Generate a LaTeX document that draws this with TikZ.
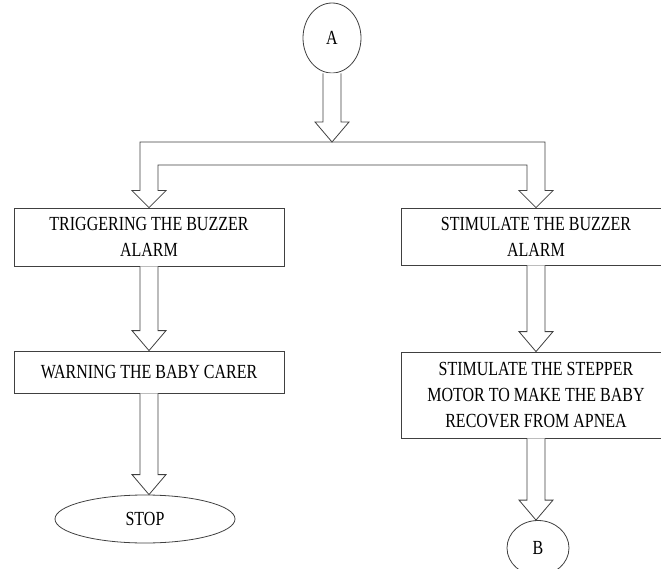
\documentclass[tikz,border=0pt]{standalone}
\usepackage{fontspec}
\setmainfont{Liberation Serif}[FakeStretch=0.8]
\usepackage{tikz}
\usetikzlibrary{shapes,calc}
\tikzstyle{process} = [draw=black!75, line width=0.8pt, fill=white, text centered, align=center, minimum width=270, inner sep=0pt, font=\fontsize{20}{26}\selectfont]
\tikzstyle{terminal} = [draw=black!75, line width=0.8pt, ellipse, inner sep=0pt, font=\fontsize{20}{26}\selectfont]
\tikzstyle{hollow} = [draw=black!75, line width=0.8pt, fill=white, line join=miter]
\newcommand{\process}[3]{node (p#1) [process, minimum height=#2] {#3}}
\newcommand{\terminal}[4]{node (t#1) [terminal, minimum width=#2, minimum height=#3] {#4}}
\newcommand{\hollowarrow}[2]{%
  \draw[hollow] let \p1=(#1), \p2=(#2) in
    (\x1-9pt,\y1) -- (\x1-9pt,\y2+20pt) -- (\x1-17pt,\y2+20pt) -- (\x1,\y2)
    -- (\x1+17pt,\y2+20pt) -- (\x1+9pt,\y2+20pt) -- (\x1+9pt,\y1);}

\begin{document}
\begin{tikzpicture}[x=1pt,y=-1pt]
\useasboundingbox (0,0) rectangle (661,569);
\clip (0,0) rectangle (661,569);

\path (332,38) \terminal{1}{58}{70}{A};
\coordinate (fork) at (332,142);

\path (149,237) \process{1}{58}{TRIGGERING THE BUZZER\\ALARM};
\path (149,372) \process{2}{42}{WARNING THE BABY CARER};
\path (145,519) \terminal{2}{180}{48}{STOP};

\path (536,236.5) \process{3}{57}{STIMULATE THE BUZZER\\ALARM};
\path (536,395) \process{4}{86}{STIMULATE THE STEPPER\\MOTOR TO MAKE THE BABY\\RECOVER FROM APNEA};
\path (538,548) \terminal{3}{62}{55}{B};

% split into both branches
\draw[hollow] let \p1=(p1.north), \p2=(p3.north), \p3=(fork) in
  (\x1-9pt,\y3) -- (\x2+9pt,\y3) -- (\x2+9pt,\y2+17pt) -- (\x2+17pt,\y2+17pt)
  -- (\x2,\y2) -- (\x2-17pt,\y2+17pt) -- (\x2-9pt,\y2+17pt) -- (\x2-9pt,\y3-23pt)
  -- (\x1+9pt,\y3-23pt) -- (\x1+9pt,\y1+17pt) -- (\x1+17pt,\y1+17pt) -- (\x1,\y1)
  -- (\x1-17pt,\y1+17pt) -- (\x1-9pt,\y1+17pt) -- cycle;
\hollowarrow{t1.south}{fork}

\hollowarrow{p1.south}{p2.north}
\hollowarrow{p2.south}{t2.north}
\hollowarrow{p3.south}{p4.north}
\hollowarrow{p4.south}{t3.north}
\end{tikzpicture}
\end{document}
